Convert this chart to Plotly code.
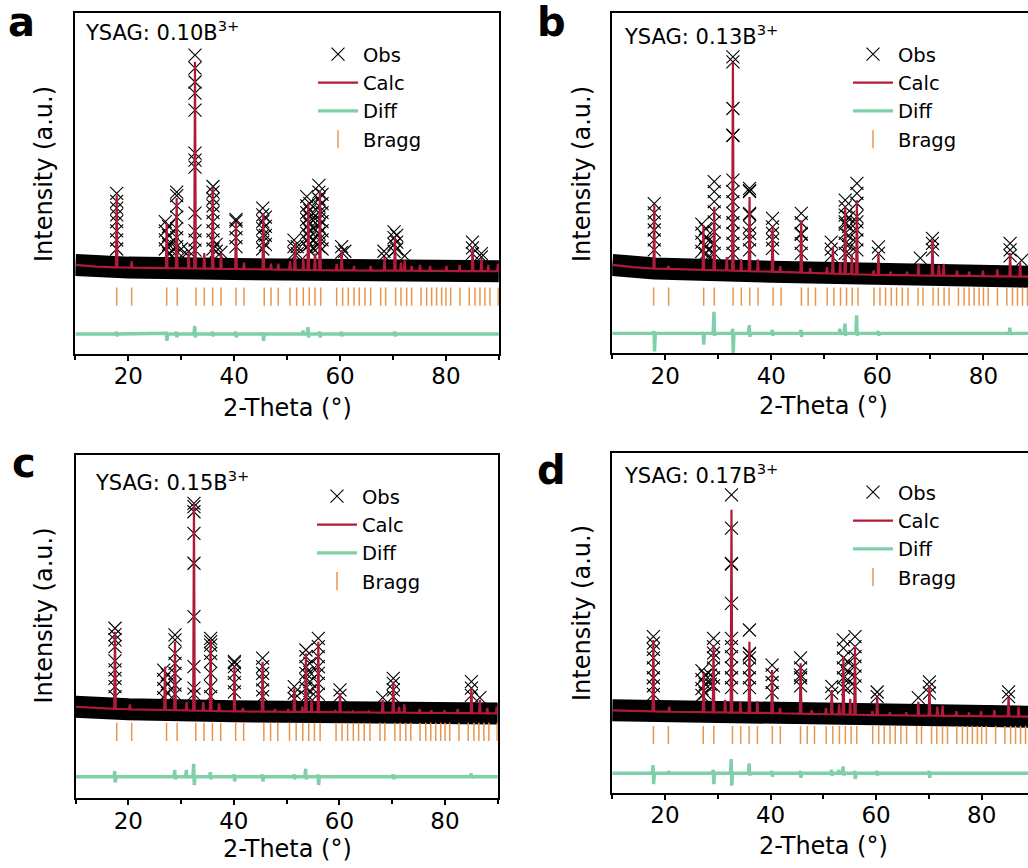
import numpy as np
import plotly.graph_objects as go

# ---------------- data ----------------
SAMPLES = ["0.10", "0.13", "0.15", "0.17"]
PANEL_TAGS = ["a", "b", "c", "d"]

# Bragg reflection positions of the garnet phase (2θ, deg)
BRAGG_POS = [17.81, 20.64, 27.25, 29.25, 32.79, 34.35, 35.94, 37.51, 40.34, 41.85,
             45.68, 46.95, 48.33, 50.54, 51.8, 53.05, 54.18, 55.26, 56.34,
             59.36, 60.49, 61.55, 62.63, 63.63, 64.7, 65.78, 67.67, 68.61,
             70.5, 71.5, 72.58, 73.52, 75.28, 76.35, 77.3, 78.24, 79.19, 80.0, 80.89,
             82.64, 84.4, 85.48, 86.42, 87.36, 88.31, 89.88]
BRAGG_LEVEL = [-5.0, -5.0, -1.0, -4.5]

# background of each pattern (2θ, intensity)
A_BG_X = [10, 14, 20, 40, 60, 90]
A_BG_Y = [9.0, 8.2, 7.8, 7.2, 6.6, 6.2]
B_BG_X = [10, 14, 18, 40, 60, 89]
B_BG_Y = [9.0, 8.0, 7.4, 6.0, 4.6, 3.8]
C_BG_X = [10, 15, 20, 40, 60, 90]
C_BG_Y = [10.0, 9.2, 8.9, 8.0, 7.6, 7.1]
D_BG_X = [10, 20, 40, 60, 89]
D_BG_Y = [6.4, 5.8, 5.2, 4.3, 3.6]

# calculated profile: reflection position and peak top
A_PEAK_POS = [17.81, 20.64, 27.25, 29.14, 31.4, 32.6, 34.35, 35.94, 37.51, 40.34, 41.85,
              45.5, 46.95, 48.33, 50.54, 51.48, 53.05, 54.0, 55.26, 56.2, 59.36, 60.3,
              62.63, 65.78, 68.4, 70.37, 71.5, 72.2, 73.52, 75.1, 77.0, 80.1, 82.6,
              85.04, 86.7, 88.0, 89.8]
A_PEAK_TOP = [39.7, 10.5, 27.4, 38.4, 14.5, 98.4, 14.2, 42.8, 14.2, 27.9, 10.0,
              31.8, 9.5, 9.5, 10.5, 18.6, 12.0, 36.2, 14.0, 42.0, 9.5, 15.5,
              8.5, 8.5, 12.5, 21.3, 10.0, 11.0, 8.5, 9.0, 8.5, 8.5, 9.0,
              16.9, 12.0, 9.0, 9.5]
B_PEAK_POS = [17.93, 20.6, 27.2, 29.24, 31.6, 32.76, 34.33, 35.9, 37.47, 40.23, 41.68,
              45.64, 47.33, 50.5, 51.61, 53.0, 53.93, 55.19, 56.14, 59.3, 60.2,
              62.5, 65.6, 67.75, 70.39, 71.6, 72.5, 75.0, 77.3, 79.9, 82.6,
              85.03, 86.92]
B_PEAK_TOP = [35.3, 8.5, 26.5, 34.6, 12.5, 98.4, 11.5, 39.0, 11.5, 25.8, 8.5,
              28.7, 7.5, 8.0, 17.0, 10.0, 34.6, 13.6, 37.5, 6.5, 14.1,
              6.0, 6.0, 9.5, 20.0, 9.0, 9.5, 6.5, 6.0, 6.5, 7.0,
              14.2, 10.0]
C_PEAK_POS = [17.48, 20.3, 26.95, 28.85, 31.05, 32.44, 34.2, 35.6, 37.2, 40.1, 41.7,
              45.45, 47.8, 50.3, 51.45, 53.0, 53.65, 54.7, 56.0, 59.2, 60.1,
              62.5, 65.6, 68.2, 70.2, 71.3, 72.3, 75.2, 77.4, 79.9, 82.4,
              85.0, 86.6, 88.0, 89.8]
C_PEAK_TOP = [42.8, 11.0, 27.5, 38.4, 12.0, 98.9, 12.0, 39.2, 11.5, 27.5, 9.5,
              29.7, 9.0, 9.0, 18.1, 10.0, 33.3, 13.0, 38.4, 8.5, 15.9,
              8.0, 8.0, 13.0, 21.0, 10.0, 11.0, 9.0, 8.5, 8.5, 9.0,
              18.1, 13.0, 9.5, 10.0]
D_PEAK_POS = [17.8, 20.8, 27.3, 29.2, 31.4, 32.6, 34.3, 36.0, 37.5, 40.3, 41.8,
              45.7, 47.8, 50.5, 51.6, 53.0, 53.8, 55.1, 56.0, 59.3, 60.2,
              62.6, 65.7, 68.0, 70.1, 71.6, 72.6, 75.2, 77.6, 79.9, 82.4,
              85.1, 87.0]
D_PEAK_TOP = [37.5, 8.0, 22.8, 35.3, 11.0, 95.0, 10.0, 36.7, 10.5, 24.2, 7.5,
              27.2, 6.5, 7.5, 15.4, 9.0, 30.1, 11.5, 35.3, 6.0, 12.4,
              5.5, 5.5, 10.2, 16.9, 8.0, 8.5, 6.0, 5.5, 6.0, 6.5,
              12.4, 8.0]

# observed points standing above the background (2θ, list of intensities)
A_OBS_POS = [17.81, 27.0, 27.6, 28.3, 29.14, 30.0, 31.4, 32.6, 36.0, 36.6, 37.5,
             40.34, 45.4, 45.9, 51.3, 51.9, 53.7, 54.3, 55.0, 56.0, 56.6,
             60.3, 60.9, 68.3, 70.2, 70.7, 72.2, 85.0, 86.7]
A_OBS_STACKS = [[40.5, 37, 34, 31, 28, 24, 20, 16],
                [28, 24, 20, 16], [26, 22, 18, 14], [18, 15, 13],
                [41, 39.5, 35, 30, 25, 21, 17], [16, 13], [15],
                [101.3, 95.6, 89.5, 84.6, 77.1, 58.2, 55.1, 52.0, 31.8, 24, 19.9, 15.5],
                [43.5, 41, 38, 35, 32, 28, 24, 20, 16], [18, 15], [14.5],
                [29, 28.3, 25, 21, 17],
                [34, 31, 28, 25, 22, 19, 16], [30, 26, 22, 18],
                [19.9, 17, 14], [17, 14],
                [39, 35, 32, 29, 26, 23, 20, 17], [36, 33, 30, 27, 24, 21, 18, 15],
                [30, 25, 20, 16], [44, 41, 38, 35, 32, 29, 26, 23, 20, 17],
                [40, 36, 32, 28, 24, 20, 16],
                [17, 14.5], [15], [15, 13], [23.5, 21, 18, 15], [22, 19, 16], [13],
                [19, 16.5, 14], [14, 12.5]]
B_OBS_POS = [17.93, 26.9, 27.6, 28.3, 29.24, 32.76, 35.9, 40.23, 45.64, 51.3,
             53.93, 54.6, 56.14, 60.2, 68.1, 70.39, 85.03, 87.2]
B_OBS_STACKS = [[36, 32, 28, 24.4, 20, 15.6],
                [27, 23, 19, 15], [25, 21, 17, 14], [20, 16, 13],
                [45.7, 41.3, 36.9, 32.4, 28, 23.6, 18.5, 14.1],
                [100.8, 98.6, 78, 66.3, 66.0, 46.4, 41.3, 36.9, 31.7, 27.6, 22.9, 18.5, 14.1],
                [42.8, 41.8, 41.3, 31.7, 31.2, 25.8, 22.9, 20, 15.6],
                [29.5, 25.8, 22.9, 20, 16.3],
                [31.7, 27.6, 22.9, 22.5, 18.5, 14.1],
                [19, 16, 13],
                [37.6, 34.6, 31, 28, 27, 22.9, 18.5, 14.1],
                [30, 26, 22, 18, 14],
                [45, 40.6, 36.2, 30.3, 28, 24.4, 20, 15.6],
                [17, 14.1], [12], [20.7, 18.5, 15.6], [18.5, 15.6, 13], [11]]
C_OBS_POS = [17.48, 26.7, 27.4, 28.85, 32.44, 35.6, 40.1, 45.45, 51.45,
             53.65, 54.4, 56.0, 60.1, 68.2, 70.2, 85.0, 86.6]
C_OBS_STACKS = [[44.3, 41.5, 39.2, 36.3, 30, 26.1, 22.4, 18.8, 14.4],
                [26, 22, 18, 14], [24, 20, 16],
                [41.4, 39.2, 33.3, 29, 24.6, 19.5, 15.5],
                [98.9, 97.4, 95.2, 85.8, 72.7, 49.4, 27.5, 18.1, 15.5],
                [39.9, 38.5, 36.9, 33.3, 29.8, 24.6, 18.8, 14.4],
                [29.8, 29.2, 27.5, 24.6, 20.5, 16.5],
                [31.2, 27.5, 24.6, 21.7, 17.4, 14.4],
                [18.8, 16, 13.5],
                [34.8, 31.9, 27.5, 24.6, 21.7, 18.1, 14.4],
                [29, 25, 21, 17, 14],
                [39.9, 36.3, 31.9, 27.5, 24.6, 20.2, 15.5],
                [17.4, 15], [14], [22.4, 20.2, 17.4, 14.4], [21, 18.1, 15], [14]]
D_OBS_POS = [17.8, 27.0, 27.6, 28.6, 29.2, 32.6, 36.0, 40.3, 45.7, 51.6,
             53.8, 54.6, 56.0, 60.2, 68.0, 70.1, 85.1]
D_OBS_STACKS = [[39, 36.1, 33.3, 29.6, 25.2, 20.8, 17.2, 13.5],
                [24, 20, 16, 13], [22, 18, 14], [22, 18],
                [38.2, 34.6, 31.7, 29.6, 25.2, 20.8, 17.2],
                [101.6, 86.9, 71.4, 71.0, 53.7, 38.2, 34.6, 30.1, 25.2, 20.8, 16.4],
                [41.9, 31.6, 31.2, 29.6, 25.2, 20.8, 16.4],
                [26.4, 22.2, 18.7, 14.2],
                [29.6, 25.2, 22, 20.8, 17.2],
                [17, 14],
                [37.5, 33.9, 29.6, 25.2, 20.8, 16.4],
                [28, 24, 20, 16],
                [39, 34.6, 30.1, 25.9, 21.5, 17.2],
                [14.5, 12.5], [12], [19, 16.9, 14], [14.6, 12.5]]

# difference curve: level and excursions at reflections
DIFF_LEVEL = [-21.4, -21.2, -20.6, -21.4]
A_DIFF_POS = [17.81, 27.25, 29.14, 32.6, 35.94, 40.34, 45.5, 53.05, 54.0, 56.2, 60.3, 70.37]
A_DIFF_UP = [1.0, 0.3, 1.0, 3.5, 1.0, 1.0, 0.5, 1.5, 3.0, 1.0, 1.0, 1.0]
A_DIFF_DN = [-1.0, -3.0, -1.5, -1.5, -1.0, -1.5, -3.0, -0.5, -1.5, -1.5, -1.0, -1.0]
B_DIFF_POS = [17.93, 27.2, 29.24, 32.76, 35.9, 40.23, 45.64, 53.0, 53.93, 56.14, 60.2, 85.03]
B_DIFF_UP = [1.0, 0.5, 9.5, 2.0, 3.6, 1.5, 1.5, 2.0, 4.3, 8.0, 1.0, 2.5]
B_DIFF_DN = [-8.0, -5.0, -1.0, -9.0, -1.5, -1.0, -1.5, -0.5, -1.0, -1.0, -1.0, -0.5]
C_DIFF_POS = [17.48, 28.85, 31.05, 32.44, 35.6, 40.1, 45.45, 51.45, 53.65, 56.0, 70.2, 85.0]
C_DIFF_UP = [2.5, 3.0, 3.0, 5.7, 2.0, 1.0, 1.0, 1.0, 3.5, 1.0, 1.0, 1.5]
C_DIFF_DN = [-2.5, -1.0, -0.5, -3.6, -1.0, -2.0, -2.0, -1.0, -1.0, -3.6, -1.0, -0.5]
D_DIFF_POS = [17.8, 20.8, 29.2, 32.6, 36.0, 40.3, 45.7, 51.6, 53.0, 53.8, 56.0, 60.2, 70.1]
D_DIFF_UP = [3.6, 1.0, 1.5, 6.3, 4.4, 1.0, 1.0, 1.5, 1.5, 3.0, 1.0, 1.0, 1.0]
D_DIFF_DN = [-4.8, -0.3, -4.8, -5.5, -1.0, -1.5, -2.0, -1.0, -0.3, -1.0, -2.5, -1.0, -2.0]

BG = [(A_BG_X, A_BG_Y), (B_BG_X, B_BG_Y), (C_BG_X, C_BG_Y), (D_BG_X, D_BG_Y)]
PEAKS = [(A_PEAK_POS, A_PEAK_TOP), (B_PEAK_POS, B_PEAK_TOP),
         (C_PEAK_POS, C_PEAK_TOP), (D_PEAK_POS, D_PEAK_TOP)]
OBS = [(A_OBS_POS, A_OBS_STACKS), (B_OBS_POS, B_OBS_STACKS),
       (C_OBS_POS, C_OBS_STACKS), (D_OBS_POS, D_OBS_STACKS)]
DIFF = [(A_DIFF_POS, A_DIFF_UP, A_DIFF_DN), (B_DIFF_POS, B_DIFF_UP, B_DIFF_DN),
        (C_DIFF_POS, C_DIFF_UP, C_DIFF_DN), (D_DIFF_POS, D_DIFF_UP, D_DIFF_DN)]

# ---------------- layout geometry (pixels) ----------------
W, H = 1028, 868
# plot box: left, right, top, bottom ; x-range shown
BOXES = [(75.35, 498.9, 12.7, 353.5), (612.2, 1028, 13.3, 353.3),
         (75.5, 497.8, 455.0, 798.3), (612.2, 1028, 453.3, 792.7)]
XRANGES = [[10, 90], [10, 88.4], [10, 90], [10, 88.78]]
YRANGE = [-30, 120]

FONT = "DejaVu Sans"
RED = "#B01A3A"
GREEN = "#7FCFA9"
ORANGE = "#E8964E"


def fx(px):
    return px / W


def fy(py):
    return 1 - py / H


def calc_profile(bg_x, bg_y, pos, top, half=0.15):
    xs = list(bg_x)
    ys = list(bg_y)
    for p, t in zip(pos, top):
        b = float(np.interp(p, bg_x, bg_y))
        xs += [p - half, p, p + half]
        ys += [b, t, b]
    order = np.argsort(xs, kind="stable")
    return np.array(xs)[order], np.array(ys)[order]


def diff_profile(xr, level, pos, up, dn):
    xs = [xr[0], xr[1]]
    ys = [level, level]
    for p, u, d in zip(pos, up, dn):
        xs += [p - 0.2, p - 0.05, p + 0.05, p + 0.2]
        ys += [level, level + u, level + d, level]
    order = np.argsort(xs, kind="stable")
    return np.array(xs)[order], np.array(ys)[order]


fig = go.Figure()

for i in range(4):
    sfx = "" if i == 0 else str(i + 1)
    xa, ya = "x" + sfx, "y" + sfx
    leg = "legend" + sfx
    bg_x, bg_y = BG[i]

    # observed pattern: dense noisy background band
    fig.add_trace(go.Scatter(x=bg_x, y=bg_y, mode="lines",
                             line=dict(color="black", width=22),
                             xaxis=xa, yaxis=ya, showlegend=False, hoverinfo="skip"))
    # observed points above background
    ox, oy = [], []
    for p, stack in zip(*OBS[i]):
        ox += [p] * len(stack)
        oy += list(stack)
    fig.add_trace(go.Scatter(x=ox, y=oy, mode="markers", name="Obs",
                             marker=dict(symbol="x-thin", size=13, color="black",
                                         line=dict(color="black", width=1.1)),
                             xaxis=xa, yaxis=ya, legend=leg))
    # calculated profile
    cx, cy = calc_profile(bg_x, bg_y, *PEAKS[i])
    fig.add_trace(go.Scatter(x=cx, y=cy, mode="lines", name="Calc",
                             line=dict(color=RED, width=2.2),
                             xaxis=xa, yaxis=ya, legend=leg))
    # difference curve
    dx, dy = diff_profile([10, 90], DIFF_LEVEL[i], *DIFF[i])
    fig.add_trace(go.Scatter(x=dx, y=dy, mode="lines", name="Diff",
                             line=dict(color=GREEN, width=3.4),
                             xaxis=xa, yaxis=ya, legend=leg))
    # Bragg positions
    fig.add_trace(go.Scatter(x=BRAGG_POS, y=[BRAGG_LEVEL[i]] * len(BRAGG_POS),
                             mode="markers", name="Bragg",
                             marker=dict(symbol="line-ns", size=13, color=ORANGE,
                                         line=dict(color=ORANGE, width=1.5)),
                             xaxis=xa, yaxis=ya, legend=leg))

layout = dict(width=W, height=H, margin=dict(l=0, r=0, t=0, b=0),
              paper_bgcolor="white", plot_bgcolor="white",
              font=dict(family=FONT, color="black"), showlegend=True)

LEGEND_POS = [(313, 35), (848, 35), (312, 477), (848, 473)]
for i in range(4):
    sfx = "" if i == 0 else str(i + 1)
    l, r, t, b = BOXES[i]
    full_frame = i in (0, 2)
    layout["xaxis" + sfx] = dict(
        domain=[fx(l), min(1.0, fx(r))], range=XRANGES[i], anchor="y" + sfx,
        showline=True, linecolor="black", linewidth=2, mirror=True,
        ticks="outside", ticklen=5, tickwidth=2, tickcolor="black",
        tick0=0, dtick=20, minor=dict(dtick=10, ticks="outside", ticklen=4,
                                      tickwidth=2, tickcolor="black"),
        ticklabelstandoff=-4,
        showgrid=False, zeroline=False,
        tickfont=dict(family=FONT, size=23, color="black"))
    layout["yaxis" + sfx] = dict(
        domain=[fy(b), fy(t)], range=YRANGE, anchor="x" + sfx,
        showline=True, linecolor="black", linewidth=2, mirror=full_frame,
        ticks="", showticklabels=False, showgrid=False, zeroline=False)
    lx, ly = LEGEND_POS[i]
    layout["legend" + sfx] = dict(x=fx(lx), y=fy(ly), xanchor="left", yanchor="top",
                                  bgcolor="rgba(0,0,0,0)", borderwidth=0,
                                  font=dict(family=FONT, size=19.5, color="black"),
                                  itemwidth=40, traceorder="normal")

fig.update_layout(**layout)

# panel letters, sample labels and axis titles
LETTER_POS = [(21.5, 22), (551, 22), (24, 463), (551, 470)]
INSET_POS = [(83, 30.5), (621.7, 35.5), (93.3, 480.5), (621.7, 473.5)]
YTITLE_POS = [(44, 174), (582, 174), (43.5, 616), (582, 613)]
XTITLE_POS = [(287, 408), (823, 406), (287, 849), (823, 846)]

for i in range(4):
    x0, y0 = LETTER_POS[i]
    fig.add_annotation(x=fx(x0), y=fy(y0), xref="paper", yref="paper",
                       text="<b>%s</b>" % PANEL_TAGS[i], showarrow=False,
                       xanchor="center", yanchor="middle",
                       font=dict(family=FONT, size=40, color="black"))
    x0, y0 = INSET_POS[i]
    fig.add_annotation(x=fx(x0), y=fy(y0), xref="paper", yref="paper",
                       text="YSAG: %sB<sup>3+</sup>" % SAMPLES[i], showarrow=False,
                       xanchor="left", yanchor="middle",
                       font=dict(family=FONT, size=21, color="black"))
    x0, y0 = YTITLE_POS[i]
    fig.add_annotation(x=fx(x0), y=fy(y0), xref="paper", yref="paper",
                       text="Intensity (a.u.)", showarrow=False, textangle=-90,
                       xanchor="center", yanchor="middle",
                       font=dict(family=FONT, size=24, color="black"))
    x0, y0 = XTITLE_POS[i]
    fig.add_annotation(x=fx(x0), y=fy(y0), xref="paper", yref="paper",
                       text="2-Theta (°)", showarrow=False,
                       xanchor="center", yanchor="middle",
                       font=dict(family=FONT, size=24, color="black"))

fig.write_html("out.html")
